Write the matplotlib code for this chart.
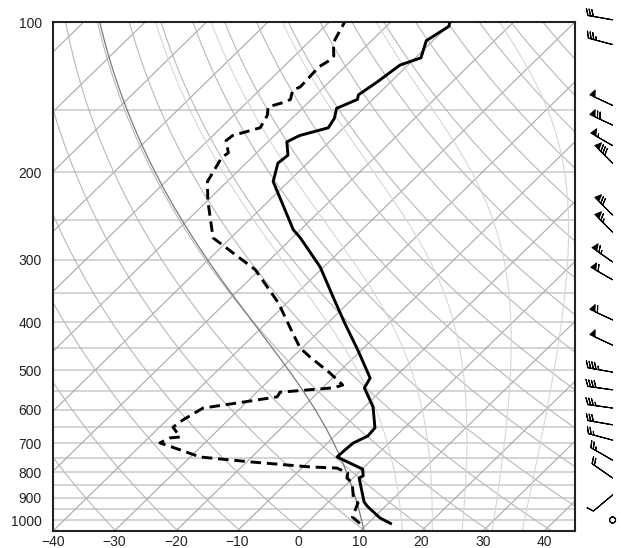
import numpy as np
import matplotlib
matplotlib.use("Agg")
import matplotlib.pyplot as plt
import matplotlib.transforms as mtransforms

# temperature profile (hPa, degC)
pres_t = [1014, 989, 936, 918, 822, 814, 789, 746, 722, 699, 677, 652, 592,
          542, 518, 455, 402, 356, 310, 271, 261, 209, 192, 185, 174, 169,
          163, 156, 149, 143, 140, 132, 122, 118, 109, 102, 100]
temp = [13.7, 11.1, 7.0, 5.8, 1.0, 1.3, 0.1, -6.1, -6.0, -5.8, -4.6, -4.8,
        -8.6, -13.2, -13.9, -20.6, -27.2, -33.5, -40.6, -48.7, -51.2, -62.5,
        -64.8, -64.5, -66.9, -65.9, -62.5, -63.1, -64.4, -62.5, -63.1, -62.2,
        -61.3, -59.1, -61.1, -59.8, -60.4]

# dewpoint profile (hPa, degC)
pres_td = [1014, 984, 923, 897, 841, 822, 803, 785, 781, 763, 746, 722, 699,
           683, 680, 650, 629, 595, 579, 565, 553, 542, 535, 506, 470, 451,
           421, 366, 314, 276, 271, 228, 209, 187, 183, 173, 169, 163, 154,
           148, 145, 143, 137, 135, 123, 119, 117, 110, 100]
dewp = [8.7, 6.4, 5.0, 3.2, 0.7, -1.0, -1.7, -4.3, -8.8, -19.4, -28.4, -32.8,
        -37.3, -36.5, -35.0, -37.8, -37.4, -36.1, -30.6, -25.9, -26.2, -18.3,
        -17.2, -21.3, -27.2, -30.3, -34.0, -41.4, -50.7, -61.4, -62.9, -70.0,
        -73.2, -74.9, -74.6, -77.0, -76.8, -73.6, -74.5, -75.8, -74.0, -73.4,
        -74.6, -73.9, -74.2, -73.5, -73.6, -75.9, -77.5]

# wind barbs (hPa, knots, degrees)
pres_wind = [998, 889, 822, 757, 690, 643, 595, 547, 504, 445, 396, 329,
             303, 264, 244, 192, 177, 161, 147, 111, 99]
wspd = [0, 10, 20, 25, 25, 30, 35, 40, 45, 50, 60, 60, 65, 65, 70, 80, 55,
        70, 50, 35, 30]
wdir = [0, 230, 305, 300, 285, 280, 278, 278, 280, 295, 295, 300, 305, 315,
        315, 315, 300, 295, 295, 285, 280]

# reference lines
isobars = np.arange(100, 1051, 50)
isotherms = np.arange(-160, 50, 10)
dry_thetas = np.arange(230, 461, 10)          # K
moist_starts = [15, 20, 25, 30, 35]           # degC at 1000 hPa
marked_start = 8.5                            # degC at 1000 hPa

P_BOT, P_TOP = 1050, 100
T_MIN, T_MAX = -40, 45

RD, CP, LV, EPS = 287.04, 1005.7, 2.501e6, 0.622


def sat_mixing_ratio(p, t):
    es = 6.112 * np.exp(17.67 * (t - 273.15) / (t - 29.65))
    return EPS * es / (p - es)


def moist_lapse(t0, p0, p_end, dp):
    """Integrate the saturated adiabat from (p0, t0), RK4 in p."""
    def f(p, t):
        rs = sat_mixing_ratio(p, t)
        return (RD * t + LV * rs) / (p * (CP + LV * LV * rs * EPS / (RD * t * t)))

    ps = [p0]
    ts = [t0]
    p, t = p0, t0
    while (p_end - (p + dp)) * np.sign(dp) >= 0:
        k1 = f(p, t)
        k2 = f(p + dp / 2, t + dp * k1 / 2)
        k3 = f(p + dp / 2, t + dp * k2 / 2)
        k4 = f(p + dp, t + dp * k3)
        t = t + dp * (k1 + 2 * k2 + 2 * k3 + k4) / 6
        p = p + dp
        ps.append(p)
        ts.append(t)
    return np.array(ps), np.array(ts)


def moist_adiabat(t0_c):
    """Saturated adiabat through t0_c at 1000 hPa, from P_BOT to P_TOP."""
    up_p, up_t = moist_lapse(t0_c + 273.15, 1000.0, P_TOP, -2.0)
    dn_p, dn_t = moist_lapse(t0_c + 273.15, 1000.0, P_BOT, 2.0)
    ps = np.concatenate([dn_p[:0:-1], up_p])
    ts = np.concatenate([dn_t[:0:-1], up_t])
    return ps, ts - 273.15


fig = plt.figure(figsize=(6.22, 5.48), dpi=100)
ax = fig.add_axes([53 / 622, 17 / 548, 522 / 622, 509 / 548])
ax.set_yscale("log")
ax.set_ylim(P_BOT, P_TOP)
ax.set_xlim(T_MIN, T_MAX)

# skewed transform: isotherms lean 45 degrees in axes space
skew = (ax.transScale + ax.transLimits
        + mtransforms.Affine2D().skew_deg(45, 0) + ax.transAxes)

for p in isobars:
    ax.axhline(p, color="#c9c9c9", lw=1.1, zorder=1)

for t in isotherms:
    ax.plot([t, t], [P_BOT, P_TOP], color="#a8a8a8", lw=0.8, transform=skew,
            zorder=1)

p_line = np.geomspace(P_BOT, P_TOP, 120)
for theta in dry_thetas:
    t_line = theta * (p_line / 1000.0) ** 0.2857 - 273.15
    ax.plot(t_line, p_line, color="#b8b8b8", lw=0.8, transform=skew, zorder=1)

for t0 in moist_starts:
    mp, mt = moist_adiabat(t0)
    ax.plot(mt, mp, color="#d6d6d6", lw=0.8, transform=skew, zorder=1)

mp, mt = moist_adiabat(marked_start)
ax.plot(mt, mp, color="#7a7a7a", lw=0.9, transform=skew, zorder=2)

# sounding
ax.plot(temp, pres_t, color="black", lw=2.1, transform=skew, zorder=5)
ax.plot(dewp, pres_td, color="black", lw=2.1, ls=(0, (3.6, 2.0)),
        transform=skew, zorder=5)

# wind barbs along the right side
wd = np.deg2rad(wdir)
u = -np.array(wspd) * np.sin(wd)
v = -np.array(wspd) * np.cos(wd)
barb_trans = mtransforms.blended_transform_factory(ax.transAxes, ax.transData)
ax.barbs(np.full(len(pres_wind), 1.072), pres_wind, u, v, length=6,
         linewidth=0.8, color="black", transform=barb_trans, clip_on=False,
         sizes=dict(spacing=0.11, height=0.26, width=0.22, emptybarb=0.12))

ax.set_yticks([100, 200, 300, 400, 500, 600, 700, 800, 900, 1000])
ax.set_yticklabels(["100", "200", "300", "400", "500", "600", "700", "800",
                    "900", "1000"])
ax.yaxis.set_minor_locator(matplotlib.ticker.NullLocator())
ax.set_xticks(np.arange(-40, 41, 10))
ax.tick_params(length=0, labelsize=10, colors="#222222", pad=3)
ax.tick_params(axis="y", pad=8)
for lbl in ax.get_xticklabels() + ax.get_yticklabels():
    lbl.set_fontfamily("Liberation Sans")
for s in ax.spines.values():
    s.set_linewidth(1.5)
    s.set_color("#222222")

fig.savefig("out.png", dpi=100)
